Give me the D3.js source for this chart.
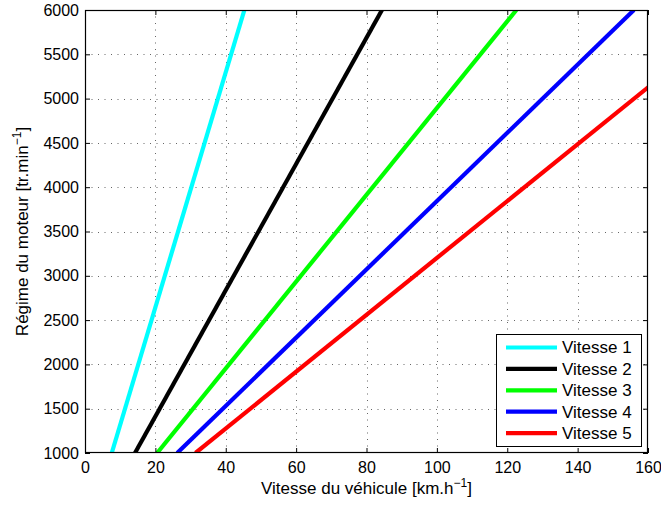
<!DOCTYPE html>
<html>
<head>
<meta charset="utf-8">
<script src="https://cdn.jsdelivr.net/npm/d3@7"></script>
<style>
  html, body { margin: 0; padding: 0; background: #fff; }
  svg { display: block; }
  text { font-family: "Liberation Sans", Arial, Helvetica, sans-serif; fill: #000; }
</style>
</head>
<body>
<svg id="chart" width="661" height="508"></svg>
<script>
// Engine speed endpoints (tr/min) and the vehicle speed (km/h) reached in each gear
const rpmPoints = [1000, 6000];
const speedGear1 = [7.6, 45.3];
const speedGear2 = [14.2, 84.4];
const speedGear3 = [20.5, 122.6];
const speedGear4 = [26.2, 156.0];
const speedGear5 = [31.4, 187.2];

const gearNames = ["Vitesse 1", "Vitesse 2", "Vitesse 3", "Vitesse 4", "Vitesse 5"];
const gearColors = ["#00ffff", "#000000", "#00ff00", "#0000ff", "#ff0000"];

const xTicks = [0, 20, 40, 60, 80, 100, 120, 140, 160];
const yTicks = [1000, 1500, 2000, 2500, 3000, 3500, 4000, 4500, 5000, 5500, 6000];

const gears = [speedGear1, speedGear2, speedGear3, speedGear4, speedGear5].map((s, i) => ({
  name: gearNames[i],
  color: gearColors[i],
  points: rpmPoints.map((r, j) => ({ rpm: r, speed: s[j] }))
}));

const svg = d3.select("#chart");
const plotL = 85, plotR = 648, plotT = 10, plotB = 453;
const tickFont = 16, labelFont = 17;

const x = d3.scaleLinear().domain([0, 160]).range([plotL, plotR]);
const y = d3.scaleLinear().domain([1000, 6000]).range([plotB, plotT]);

// dotted grid
const grid = svg.append("g").attr("stroke", "#666").attr("stroke-width", 1)
  .attr("stroke-dasharray", "1,5.5");
grid.selectAll("line.gx").data(xTicks.slice(1, -1)).join("line")
  .attr("class", "gx")
  .attr("x1", d => Math.round(x(d)) + 0.5).attr("x2", d => Math.round(x(d)) + 0.5)
  .attr("y1", plotB).attr("y2", plotT);
grid.selectAll("line.gy").data(yTicks.slice(1, -1)).join("line")
  .attr("class", "gy")
  .attr("y1", d => Math.round(y(d)) + 0.5).attr("y2", d => Math.round(y(d)) + 0.5)
  .attr("x1", plotL).attr("x2", plotR);

// series, clipped to the plot area
svg.append("clipPath").attr("id", "plotClip").append("rect")
  .attr("x", plotL).attr("y", plotT).attr("width", plotR - plotL).attr("height", plotB - plotT);

const line = d3.line().x(d => x(d.speed)).y(d => y(d.rpm));
svg.append("g").attr("clip-path", "url(#plotClip)")
  .selectAll("path").data(gears).join("path")
  .attr("d", d => line(d.points))
  .attr("fill", "none")
  .attr("stroke", d => d.color)
  .attr("stroke-width", 4.2);

// axes with inward ticks on all four sides
function styleAxis(g) {
  g.select(".domain").remove();
  g.selectAll(".tick line").attr("stroke", "#000");
  g.selectAll(".tick text").attr("font-size", tickFont)
    .attr("font-family", "'Liberation Sans', Arial, sans-serif");
}
const fmt = d3.format("d");
svg.append("g").attr("transform", `translate(0,${plotB})`)
  .call(d3.axisBottom(x).tickValues(xTicks).tickFormat(fmt).tickSizeInner(-5).tickSizeOuter(0).tickPadding(9))
  .call(styleAxis);
svg.append("g").attr("transform", `translate(0,${plotT})`)
  .call(d3.axisTop(x).tickValues(xTicks).tickSizeInner(-5).tickSizeOuter(0).tickFormat(""))
  .call(styleAxis);
svg.append("g").attr("transform", `translate(${plotL},0)`)
  .call(d3.axisLeft(y).tickValues(yTicks).tickFormat(fmt).tickSizeInner(-5).tickSizeOuter(0).tickPadding(6))
  .call(styleAxis);
svg.append("g").attr("transform", `translate(${plotR},0)`)
  .call(d3.axisRight(y).tickValues(yTicks).tickSizeInner(-5).tickSizeOuter(0).tickFormat(""))
  .call(styleAxis);

// box
svg.append("rect").attr("x", plotL + 0.5).attr("y", plotT + 0.5)
  .attr("width", plotR - plotL - 1).attr("height", plotB - plotT - 1)
  .attr("fill", "none").attr("stroke", "#000").attr("stroke-width", 1.2);

// axis titles
const xTitle = svg.append("text")
  .attr("x", (plotL + plotR) / 2).attr("y", 494)
  .attr("text-anchor", "middle").attr("font-size", labelFont);
xTitle.append("tspan").text("Vitesse du véhicule [km.h");
xTitle.append("tspan").attr("font-size", 12).attr("dy", -7).text("−1");
xTitle.append("tspan").attr("dy", 7).text("]");

const yTitle = svg.append("text")
  .attr("transform", `translate(28,${(plotT + plotB) / 2}) rotate(-90)`)
  .attr("text-anchor", "middle").attr("font-size", labelFont);
yTitle.append("tspan").text("Régime du moteur [tr.min");
yTitle.append("tspan").attr("font-size", 12).attr("dy", -7).text("−1");
yTitle.append("tspan").attr("dy", 7).text("]");

// legend
const lgX = 496, lgY = 334, lgW = 145, lgH = 112;
const legend = svg.append("g");
legend.append("rect").attr("x", lgX + 0.5).attr("y", lgY + 0.5)
  .attr("width", lgW).attr("height", lgH)
  .attr("fill", "#fff").attr("stroke", "#000").attr("stroke-width", 1);
const rows = legend.selectAll("g.row").data(gears).join("g")
  .attr("class", "row")
  .attr("transform", (d, i) => `translate(0,${lgY + 13.5 + i * 21.4})`);
rows.append("line").attr("x1", lgX + 10).attr("x2", lgX + 61)
  .attr("y1", 0).attr("y2", 0)
  .attr("stroke", d => d.color).attr("stroke-width", 4.2);
rows.append("text").attr("x", lgX + 66).attr("y", 0).attr("dy", "0.35em")
  .attr("font-size", labelFont).text(d => d.name);
</script>
</body>
</html>
